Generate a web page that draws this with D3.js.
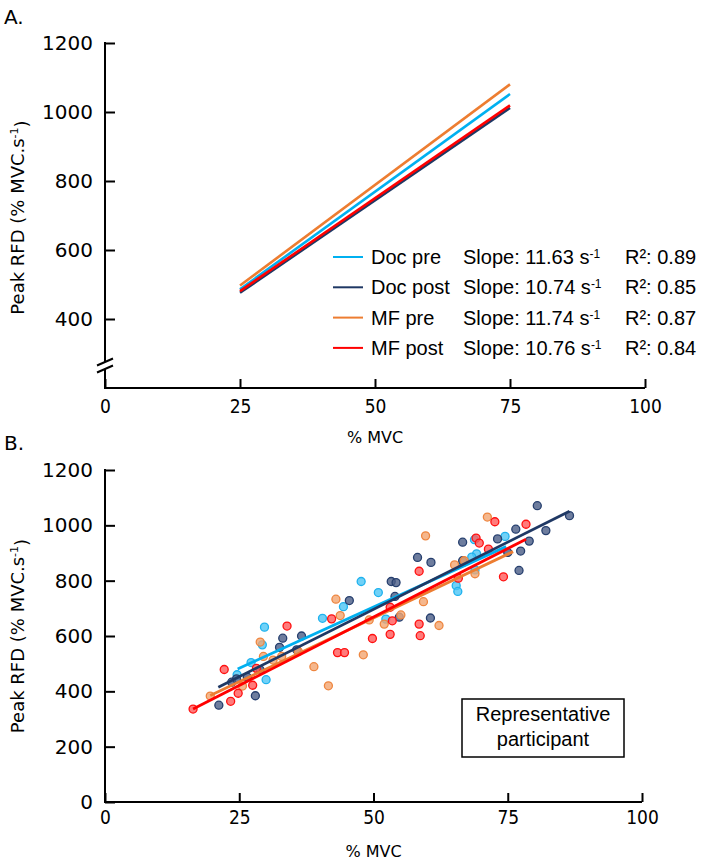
<!DOCTYPE html>
<html>
<head>
<meta charset="utf-8">
<script src="https://cdn.jsdelivr.net/npm/d3@7"></script>
<style>
  html, body { margin: 0; padding: 0; background: #fff; }
  svg { display: block; }
</style>
</head>
<body>
<svg id="chart" width="701" height="863"></svg>
<script>
// ---------------- DATA ----------------
const seriesNames = ["Doc pre", "Doc post", "MF pre", "MF post"];
const slopes = ["11.63", "10.74", "11.74", "10.76"];
const r2 = ["0.89", "0.85", "0.87", "0.84"];
const xTicks = [0, 25, 50, 75, 100];
const yTicksA = [400, 600, 800, 1000, 1200];
const yTicksB = [0, 200, 400, 600, 800, 1000, 1200];

// Panel A regression lines: [x, y] endpoints
const fitA_docPre  = [[25, 486], [75, 1052]];
const fitA_docPost = [[25, 476], [75, 1012]];
const fitA_mfPre   = [[25, 497], [75, 1080]];
const fitA_mfPost  = [[25, 481], [75, 1019]];

// Panel B scatter (representative participant)
const ptsDocPre = [[24.6,460],[30.0,442],[27.2,504],[29.3,568],[29.7,632],[40.5,664],[47.7,797],
  [50.9,757],[44.4,706],[52.3,661],[65.4,782],[65.7,761],[66.7,866],[74.5,960],[69.2,897],
  [68.3,885],[68.9,839],[68.8,948]];
const ptsDocPost = [[21.2,350],[28.0,384],[23.6,433],[26.5,451],[28.9,477],[33.1,592],[36.6,600],
  [32.5,559],[35.7,550],[53.3,797],[54.2,793],[45.5,728],[54.0,743],[54.8,668],[60.6,665],
  [58.2,884],[60.7,866],[66.6,939],[80.5,1071],[86.5,1035],[76.5,986],[82.1,981],[73.1,951],
  [79.0,943],[75.0,902],[77.4,907],[77.1,837],[24.5,445],[66.6,872]];
const ptsMfPre = [[19.6,383],[25.6,419],[31.3,513],[32.9,526],[36.0,544],[29.5,526],[28.9,578],
  [43.0,733],[38.9,489],[41.6,420],[43.8,674],[49.2,658],[55.1,676],[52.0,643],[59.3,724],
  [62.2,638],[48.1,532],[59.7,962],[65.1,857],[71.2,1030],[66.9,872],[68.9,825]];
const ptsMfPost = [[16.4,336],[23.4,364],[24.8,393],[27.5,422],[22.2,479],[28.2,483],[33.9,636],
  [42.2,662],[43.3,540],[44.6,540],[58.5,834],[53.1,704],[53.5,655],[58.5,643],[53.1,606],
  [49.8,591],[58.7,601],[65.8,809],[72.6,1013],[78.4,1004],[69.1,954],[69.7,936],[71.4,914],
  [74.2,814]];

// Panel B regression lines
const fitB_docPre  = [[24.7, 481], [74.7, 923]];
const fitB_docPost = [[21.1, 415], [86.5, 1051]];
const fitB_mfPre   = [[19.6, 385], [76.0, 905]];
const fitB_mfPost  = [[16.4, 336], [78.4, 950]];

// ---------------- STYLE ----------------
const lineColors = ["#00b0f0", "#1f3864", "#ed7d31", "#ff0000"];
const ptFill = ["#4cc6f5", "#4a5d86", "#f3a570", "#ff5a5a"];
const ptStroke = ["#1fb2ee", "#263f6e", "#ee8640", "#ff1010"];
const tickFont = "'DejaVu Sans', sans-serif";
const xTickFont = "'DejaVu Sans Condensed', 'DejaVu Sans', sans-serif";
const textFont = "'Liberation Sans', Arial, sans-serif";

const svg = d3.select("#chart");

function styleAxis(g, isX) {
  g.select(".domain").remove();
  g.selectAll(".tick line").attr("stroke", "#000").attr("stroke-width", 2);
  g.selectAll(".tick text")
    .attr("fill", "#000")
    .style("font-family", isX ? xTickFont : tickFont)
    .style("font-size", isX ? "19px" : "20px");
}

// ================= PANEL A =================
const xA = d3.scaleLinear().domain([0, 100]).range([105, 645]);
const yA = d3.scaleLinear().domain([200, 1200]).range([388, 43]);

svg.append("text").attr("x", 4).attr("y", 24).text("A.")
  .style("font-family", tickFont).style("font-size", "20px");

// x axis
const gxA = svg.append("g").attr("transform", `translate(0,${yA(200)})`)
  .call(d3.axisBottom(xA).tickValues(xTicks).tickSize(-9).tickPadding(12).tickFormat(d3.format("d")));
styleAxis(gxA, true);
gxA.selectAll(".tick text").attr("dy", "0.71em");
svg.append("line").attr("x1", xA(0)).attr("x2", xA(100)).attr("y1", yA(200)).attr("y2", yA(200))
  .attr("stroke", "#000").attr("stroke-width", 2);

// y axis with break
const gyA = svg.append("g").attr("transform", `translate(${xA(0)},0)`)
  .call(d3.axisLeft(yA).tickValues(yTicksA).tickSize(-10).tickPadding(12).tickFormat(d3.format("d")));
styleAxis(gyA, false);
const breakTop = yA(200) - 26, breakBot = yA(200) - 19;
svg.append("line").attr("x1", xA(0)).attr("x2", xA(0)).attr("y1", yA(1200) - 1).attr("y2", breakTop)
  .attr("stroke", "#000").attr("stroke-width", 2);
svg.append("line").attr("x1", xA(0)).attr("x2", xA(0)).attr("y1", breakBot).attr("y2", yA(200) + 1)
  .attr("stroke", "#000").attr("stroke-width", 2);
[breakTop, breakBot].forEach(yy => {
  svg.append("line").attr("x1", xA(0) - 8).attr("x2", xA(0) + 8)
    .attr("y1", yy + 3.5).attr("y2", yy - 3.5)
    .attr("stroke", "#000").attr("stroke-width", 2);
});

// axis titles
svg.append("text").attr("transform", `translate(24,${(yA(1200) + yA(200)) / 2 + 2}) rotate(-90)`)
  .attr("text-anchor", "middle")
  .style("font-family", tickFont).style("font-size", "18px")
  .call(t => {
    t.append("tspan").text("Peak RFD (% MVC.s");
    t.append("tspan").attr("dy", "-0.55em").style("font-size", "11px").text("-1");
    t.append("tspan").attr("dy", "0.55em").text(")");
  });
svg.append("text").attr("x", xA(50)).attr("y", 443).attr("text-anchor", "middle")
  .style("font-family", tickFont).style("font-size", "16px").text("% MVC");

// fit lines panel A
const lineA = d3.line().x(d => xA(d[0])).y(d => yA(d[1]));
const fitsA = [fitA_docPre, fitA_docPost, fitA_mfPre, fitA_mfPost];
[1, 0, 3, 2].forEach(i => {
  svg.append("path").attr("d", lineA(fitsA[i])).attr("fill", "none")
    .attr("stroke", lineColors[i]).attr("stroke-width", 2.6);
});

// legend
const legY0 = 257, legDy = 30.3;
seriesNames.forEach((name, i) => {
  const yy = legY0 + i * legDy;
  svg.append("line").attr("x1", 333).attr("x2", 363).attr("y1", yy).attr("y2", yy)
    .attr("stroke", lineColors[i]).attr("stroke-width", 2);
  svg.append("text").attr("x", 371).attr("y", yy).attr("dy", "0.35em")
    .style("font-family", textFont).style("font-size", "20px").text(name);
  const s = svg.append("text").attr("x", 463).attr("y", yy).attr("dy", "0.35em")
    .style("font-family", textFont).style("font-size", "20px");
  s.append("tspan").text("Slope: " + slopes[i] + " s");
  s.append("tspan").attr("dy", "-0.5em").style("font-size", "12px").text("-1");
  svg.append("text").attr("x", 625).attr("y", yy).attr("dy", "0.35em")
    .style("font-family", textFont).style("font-size", "20px").text("R²: " + r2[i]);
});

// ================= PANEL B =================
const xB = d3.scaleLinear().domain([0, 100]).range([105, 642]);
const yB = d3.scaleLinear().domain([0, 1200]).range([802, 470]);

svg.append("text").attr("x", 4).attr("y", 450).text("B.")
  .style("font-family", tickFont).style("font-size", "20px");

const gxB = svg.append("g").attr("transform", `translate(0,${yB(0)})`)
  .call(d3.axisBottom(xB).tickValues(xTicks).tickSize(-9).tickPadding(9).tickFormat(d3.format("d")));
styleAxis(gxB, true);
gxB.selectAll(".tick text").attr("dy", "0.71em");
svg.append("line").attr("x1", xB(0)).attr("x2", xB(100)).attr("y1", yB(0)).attr("y2", yB(0))
  .attr("stroke", "#000").attr("stroke-width", 2);

const gyB = svg.append("g").attr("transform", `translate(${xB(0)},0)`)
  .call(d3.axisLeft(yB).tickValues(yTicksB).tickSize(-10).tickPadding(12).tickFormat(d3.format("d")));
styleAxis(gyB, false);
svg.append("line").attr("x1", xB(0)).attr("x2", xB(0)).attr("y1", yB(1200) - 1).attr("y2", yB(0) + 1)
  .attr("stroke", "#000").attr("stroke-width", 2);

svg.append("text").attr("transform", `translate(24,${(yB(1200) + yB(0)) / 2}) rotate(-90)`)
  .attr("text-anchor", "middle")
  .style("font-family", tickFont).style("font-size", "18px")
  .call(t => {
    t.append("tspan").text("Peak RFD (% MVC.s");
    t.append("tspan").attr("dy", "-0.55em").style("font-size", "11px").text("-1");
    t.append("tspan").attr("dy", "0.55em").text(")");
  });
svg.append("text").attr("x", xB(50)).attr("y", 857).attr("text-anchor", "middle")
  .style("font-family", tickFont).style("font-size", "16px").text("% MVC");

// points
const ptsAll = [ptsDocPre, ptsDocPost, ptsMfPre, ptsMfPost];
[0, 1, 2, 3].forEach(i => {
  svg.append("g").selectAll("circle").data(ptsAll[i]).join("circle")
    .attr("cx", d => xB(d[0])).attr("cy", d => yB(d[1])).attr("r", 4)
    .attr("fill", ptFill[i]).attr("fill-opacity", 0.8)
    .attr("stroke", ptStroke[i]).attr("stroke-width", 1.3);
});

// fit lines B
const lineB = d3.line().x(d => xB(d[0])).y(d => yB(d[1]));
const fitsB = [fitB_docPre, fitB_docPost, fitB_mfPre, fitB_mfPost];
[0, 2, 1, 3].forEach(i => {
  svg.append("path").attr("d", lineB(fitsB[i])).attr("fill", "none")
    .attr("stroke", lineColors[i]).attr("stroke-width", 2.8);
});

// annotation box
svg.append("rect").attr("x", 462).attr("y", 699).attr("width", 162).attr("height", 58)
  .attr("fill", "#fff").attr("stroke", "#000").attr("stroke-width", 1.5);
svg.append("text").attr("x", 543).attr("y", 714).attr("dy", "0.35em").attr("text-anchor", "middle")
  .style("font-family", textFont).style("font-size", "20px").text("Representative");
svg.append("text").attr("x", 543).attr("y", 739).attr("dy", "0.35em").attr("text-anchor", "middle")
  .style("font-family", textFont).style("font-size", "20px").text("participant");
</script>
</body>
</html>
